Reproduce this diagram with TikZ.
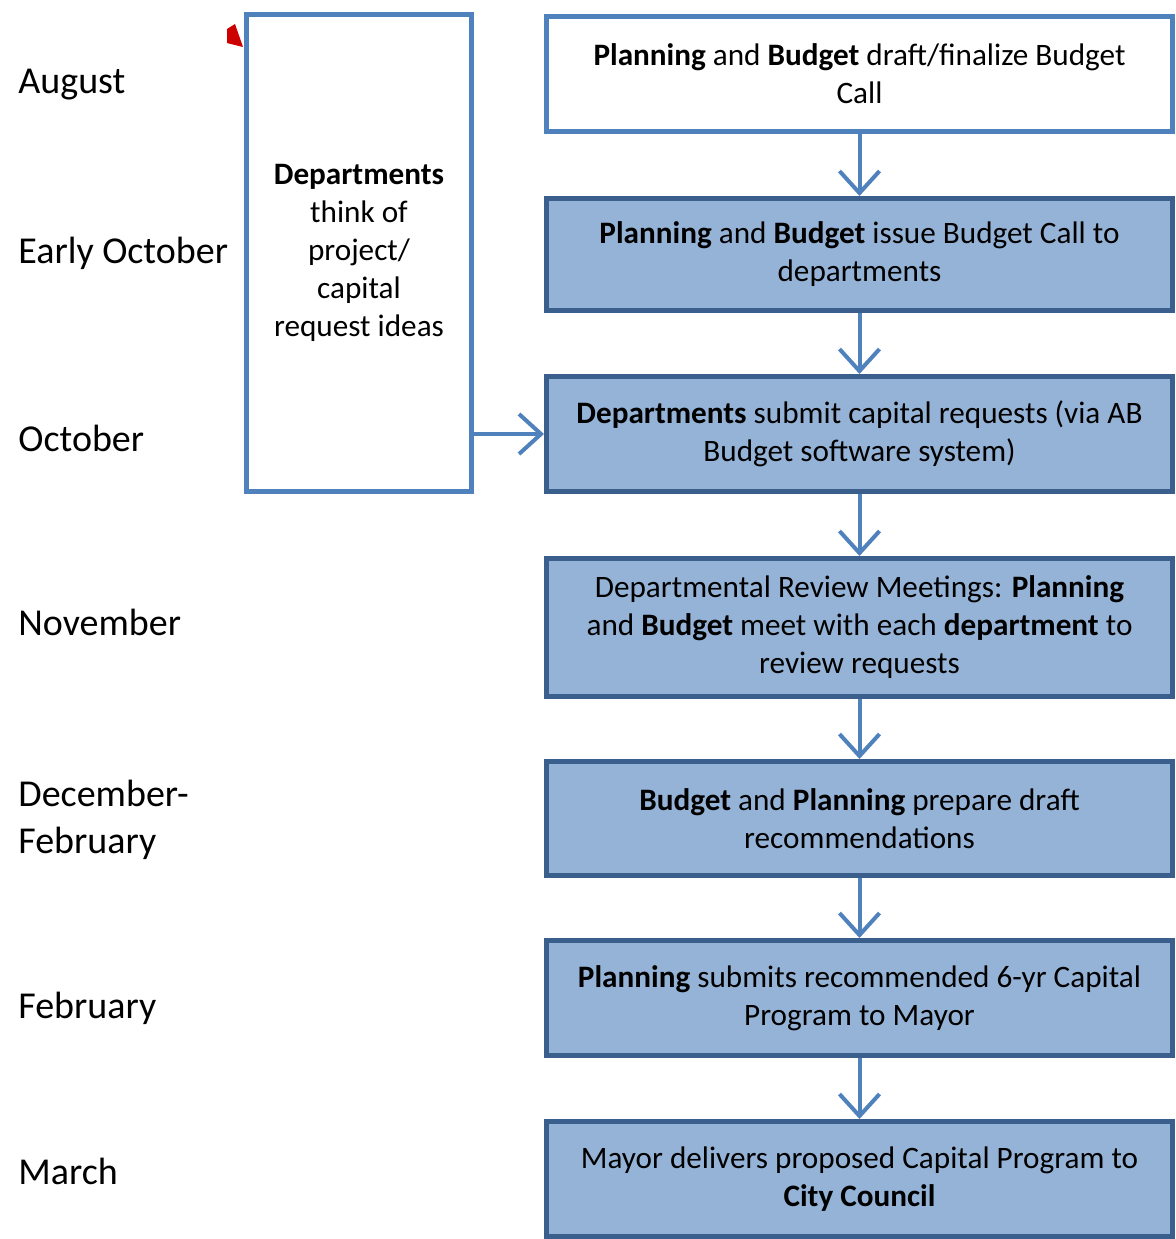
\documentclass[tikz,border=0pt]{standalone}
\usepackage{fontspec}
\setmainfont{Carlito}
\usetikzlibrary{arrows.meta}
\definecolor{lineblue}{HTML}{4F81BD}
\definecolor{fillblue}{HTML}{95B3D7}
\definecolor{darkblue}{HTML}{3A5F8C}
\begin{document}
\begin{tikzpicture}[x=0.5pt,y=-0.5pt,
  month/.style={anchor=west, inner sep=0pt, align=left, font=\fontsize{19}{23.5}\selectfont},
  stepbox/.style={rectangle, draw=darkblue, fill=fillblue, line width=2.5pt, minimum width=313pt, inner sep=0pt, align=center, font=\fontsize{15.6}{19}\selectfont},
  whitebox/.style={stepbox, draw=lineblue, fill=white},
  flow/.style={draw=lineblue, line width=2pt, -{Straight Barb[length=11pt, width=20pt, line width=2pt]}}]
\useasboundingbox (0,0) rectangle (1175,1239);
% months
\node [month] (aug) at (18,85) {August};
\node [month] (earlyoct) at (18,253) {Early October};
\node [month] (oct) at (18,438) {October};
\node [month] (nov) at (18,622) {November};
\node [month] (decfeb) at (18,820) {December-\\February};
\node [month] (feb) at (18,1008) {February};
\node [month] (mar) at (18,1171) {March};
% left box
\fill [red!80!black] (227,29) -- (235,24) -- (243,47) -- (227,43) -- cycle;
\node [whitebox, minimum width=112.5pt, minimum height=238.5pt] (ideas) at (359,253) {\textbf{Departments}\\think of\\project/\\capital\\request ideas};
% steps
\node [whitebox, minimum height=57.5pt] (budgetcall) at (859.5,74) {\textbf{Planning} and \textbf{Budget} draft/finalize Budget\\Call};
\node [stepbox, minimum height=56pt] (issue) at (859.5,254.5) {\textbf{Planning} and \textbf{Budget} issue Budget Call to\\departments};
\node [stepbox, minimum height=57.5pt] (submit) at (859.5,434) {\textbf{Departments} submit capital requests (via AB\\Budget software system)};
\node [stepbox, minimum height=69pt] (review) at (859.5,627.5) {Departmental Review Meetings: \textbf{Planning}\\and \textbf{Budget} meet with each \textbf{department} to\\review requests};
\node [stepbox, minimum height=57pt] (draft) at (859.5,818.5) {\textbf{Budget} and \textbf{Planning} prepare draft\\recommendations};
\node [stepbox, minimum height=57.5pt] (recommend) at (859.5,998) {\textbf{Planning} submits recommended 6-yr Capital\\Program to Mayor};
\node [stepbox, minimum height=57.5pt] (deliver) at (859.5,1179) {Mayor delivers proposed Capital Program to\\\textbf{City Council}};
% arrows
\foreach \a/\b in {budgetcall/issue, issue/submit, submit/review, review/draft, draft/recommend, recommend/deliver}
  \draw [flow] (\a) -- (\b);
\draw [flow] (ideas.east |- submit) -- (submit.west);
\end{tikzpicture}
\end{document}
